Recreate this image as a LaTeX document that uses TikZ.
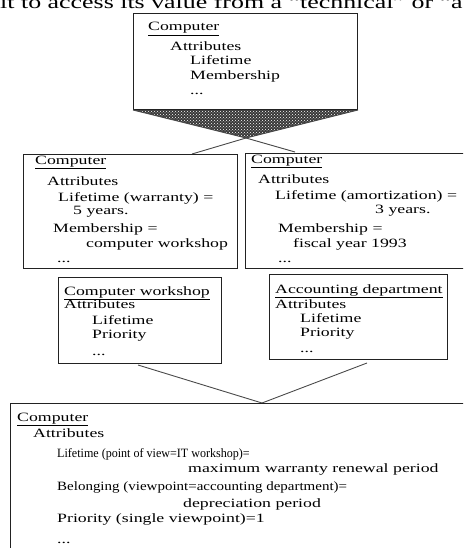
\documentclass[tikz,border=0pt]{standalone}
\usepackage{fontspec}
\setmainfont{Liberation Serif}[FakeStretch=1.4]
\newfontfamily\tightfont{Liberation Serif}[FakeStretch=0.95]
\newfontfamily\midfont{Liberation Serif}[FakeStretch=1.18]
\usetikzlibrary{patterns,backgrounds}
\definecolor{frame}{HTML}{222222}
\definecolor{wire}{HTML}{4A4A4A}
\tikzset{
  box/.style={draw=frame, line width=1pt, inner sep=0pt, anchor=north west},
  % text blocks sit on the baseline of their last line
  txt/.style={anchor=base west, inner sep=0pt, align=left, font=\fontsize{12.7}{14}\selectfont},
  conn/.style={draw=wire, line width=0.9pt},
}

\begin{document}
\begin{tikzpicture}[x=1pt,y=-1pt]
  \useasboundingbox (0,0) rectangle (463,548);
  \clip (0,0) rectangle (463,548);

  % cut-off line of the running text
  \node[anchor=base west, inner sep=0pt, font=\fontsize{18.5}{20}\selectfont] (intro) at (0,9)
    {it to access its value from a “technical” or “a};

  % general object
  \node[box, minimum width=224pt, minimum height=96pt] (top) at (133,13) {};
  \node[txt] (topText) at (148,95) {\underline{Computer}\\[6pt]
    \hspace*{22pt}Attributes\\
    \hspace*{42pt}Lifetime\\[1pt]
    \hspace*{42pt}Membership\\[1pt]
    \hspace*{42pt}...};

  % split into two views
  \coordinate (apex) at (246,138);
  \coordinate (lIn) at (192,154);
  \coordinate (rIn) at (295,152);
  \begin{scope}[on background layer]
    \fill[black!78] (top.south west) -- (top.south east) -- (apex) -- cycle;
    \fill[pattern=crosshatch dots, pattern color=white] (top.south west) -- (top.south east) -- (apex) -- cycle;
  \end{scope}
  \draw[conn] (top.south west) -- (apex) -- (rIn);
  \draw[conn] (top.south east) -- (apex) -- (lIn);

  % technical view
  \node[box, minimum width=214pt, minimum height=114pt] (compL) at (23,154) {};
  \node[txt] (compLText) at (35,262) {\underline{Computer}\\[7pt]
    \hspace*{12pt}Attributes\\[2pt]
    \hspace*{23pt}Lifetime (warranty) =\\[-1pt]
    \hspace*{38pt}5 years.\\[4pt]
    \hspace*{18pt}Membership =\\[1pt]
    \hspace*{51pt}computer workshop\\[1pt]
    \hspace*{22pt}...};

  % accounting view
  \node[box, minimum width=230pt, minimum height=115pt] (compR) at (245,153) {};
  \node[txt] (compRText) at (251,262) {\underline{Computer}\\[6pt]
    \hspace*{7pt}Attributes\\[2pt]
    \hspace*{24pt}Lifetime (amortization) =\\[0pt]
    \hspace*{124pt}3 years.\\[5pt]
    \hspace*{27pt}Membership =\\[1pt]
    \hspace*{42pt}fiscal year 1993\\[1pt]
    \hspace*{27pt}...};

  % viewpoints
  \node[box, minimum width=163pt, minimum height=86pt] (shopL) at (58,277) {};
  \node[txt] (shopLText) at (64,355) {\underline{Computer workshop}\\[-1pt]
    Attributes\\[2pt]
    \hspace*{28pt}Lifetime\\[0pt]
    \hspace*{28pt}Priority\\[3pt]
    \hspace*{28pt}...};

  \node[box, minimum width=178pt, minimum height=85pt] (shopR) at (269,274) {};
  \node[txt] (shopRText) at (275,352) {\underline{Accounting department}\\[1pt]
    Attributes\\[0pt]
    \hspace*{25pt}Lifetime\\
    \hspace*{25pt}Priority\\[2pt]
    \hspace*{25pt}...};

  % merge
  \coordinate (lOut) at (138,365);
  \coordinate (rOut) at (367,363);
  \coordinate (mIn) at (262,403);
  \draw[conn] (lOut) -- (mIn) -- (rOut);

  % merged object
  \node[box, minimum width=470pt, minimum height=160pt] (merged) at (10,403) {};
  \node[txt] (mergedText) at (17,543) {\underline{Computer}\\[2pt]
    \hspace*{16pt}Attributes\\[6pt]
    \hspace*{40pt}{\tightfont Lifetime (point of view=IT workshop)=}\\[1pt]
    \hspace*{171pt}maximum warranty renewal period\\[4pt]
    \hspace*{40pt}{\midfont Belonging (viewpoint=accounting department)=}\\[3pt]
    \hspace*{166pt}depreciation period\\[1pt]
    \hspace*{40pt}Priority (single viewpoint)=1\\[7pt]
    \hspace*{40pt}...};
\end{tikzpicture}
\end{document}
